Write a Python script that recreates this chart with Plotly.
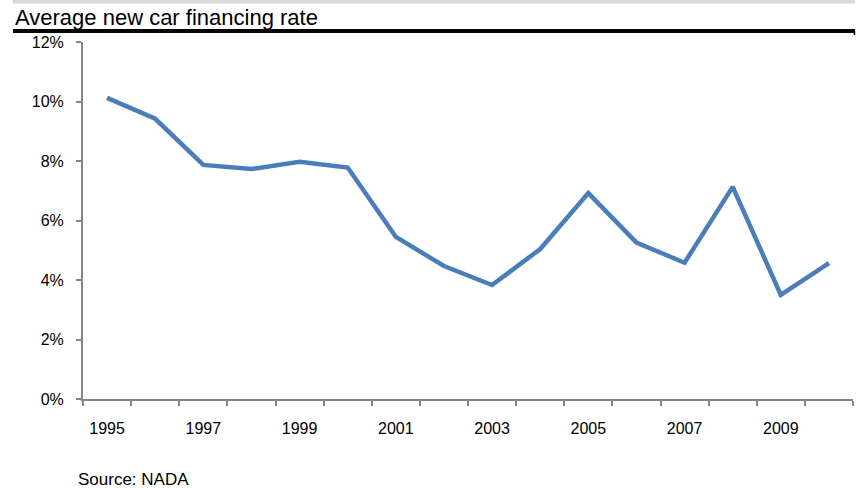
import plotly.graph_objects as go

years = list(range(1995, 2011))
rates = [10.12, 9.42, 7.87, 7.73, 7.97, 7.78, 5.45, 4.47, 3.83, 5.04,
         6.92, 5.26, 4.58, 7.13, 3.50, 4.57]
y_ticks = [0, 2, 4, 6, 8, 10, 12]
x_label_years = [1995, 1997, 1999, 2001, 2003, 2005, 2007, 2009]

title_text = "Average new car financing rate"
source_text = "Source: NADA"

W, H = 865, 488
L, R, T, B = 83, 12, 42, 89
pw, ph = W - L - R, H - T - B

def px_x(px):
    return (px - L) / pw

def px_y(py):
    return (H - B - py) / ph

FONT = "Liberation Sans, Arial, sans-serif"
AXIS_COLOR = "#868686"

fig = go.Figure()
fig.add_trace(go.Scatter(
    x=years, y=[r / 100 for r in rates], mode="lines",
    line=dict(color="#4A7EBB", width=4.5),
    hoverinfo="x+y", showlegend=False,
))

fig.update_layout(
    width=W, height=H,
    margin=dict(l=L, r=R, t=T, b=B),
    paper_bgcolor="white", plot_bgcolor="white",
    font=dict(family=FONT, size=16, color="black"),
    xaxis=dict(
        range=[years[0] - 0.5, years[-1] + 0.5],
        tickvals=x_label_years,
        ticktext=[str(y) for y in x_label_years],
        ticks="", showgrid=False, zeroline=False,
        showline=True, linecolor=AXIS_COLOR, linewidth=2,
        ticklabelstandoff=14,
        minor=dict(tick0=years[0] - 0.5, dtick=1, ticks="outside",
                   ticklen=5, tickwidth=2, tickcolor=AXIS_COLOR, showgrid=False),
        tickfont=dict(size=16),
    ),
    yaxis=dict(
        range=[0, 0.12],
        tickvals=[v / 100 for v in y_ticks],
        tickformat=".0%",
        ticks="outside", ticklen=5, tickwidth=2, tickcolor=AXIS_COLOR,
        showgrid=False, zeroline=False,
        showline=True, linecolor=AXIS_COLOR, linewidth=2,
        ticklabelstandoff=9,
        tickfont=dict(size=16),
    ),
    shapes=[
        dict(type="rect", xref="paper", yref="paper",
             x0=px_x(13), x1=px_x(855), y0=px_y(3.5), y1=px_y(-1),
             fillcolor="#D9D9D9", line=dict(width=0), layer="above"),
        dict(type="line", xref="paper", yref="paper",
             x0=px_x(13), x1=px_x(855), y0=px_y(31), y1=px_y(31),
             line=dict(color="black", width=4)),
        dict(type="line", xref="paper", yref="paper",
             x0=px_x(854.5), x1=px_x(854.5), y0=px_y(31), y1=px_y(35),
             line=dict(color="black", width=1.5)),
    ],
    annotations=[
        dict(text=title_text, xref="paper", yref="paper",
             x=px_x(13), y=px_y(17), xanchor="left", yanchor="middle",
             showarrow=False, font=dict(size=22, family=FONT, color="black")),
        dict(text=source_text, xref="paper", yref="paper",
             x=px_x(76), y=px_y(479), xanchor="left", yanchor="middle",
             showarrow=False, font=dict(size=17, family=FONT, color="black")),
    ],
)

fig.write_html(
    "out.html",
    config={"displayModeBar": False},
    post_script="document.body.style.margin='0';document.body.style.overflow='hidden';",
)
